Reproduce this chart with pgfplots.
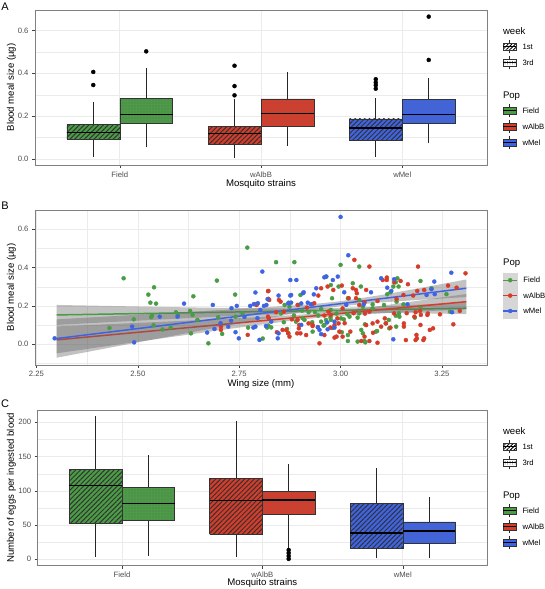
\documentclass[border=0pt]{standalone}
\usepackage{fontspec}
\setmainfont{Liberation Sans}
\usepackage{pgfplots}
\pgfplotsset{compat=1.18}
\usetikzlibrary{patterns.meta}

\definecolor{cF}{HTML}{4A9C45}
\definecolor{cA}{HTML}{D63C2A}
\definecolor{cM}{HTML}{3E64E4}
\definecolor{gridc}{HTML}{EBEBEB}
\definecolor{tickc}{HTML}{4D4D4D}
\definecolor{bandkey}{HTML}{D6D6D6}

\pgfplotsset{
 gg/.style={
  scale only axis,
  axis line style={draw=black!50, line width=0.6pt},
  grid=both,
  major grid style={draw=gridc, line width=0.6pt},
  minor grid style={draw=gridc, line width=0.3pt},
  tick align=outside, tick pos=left,
  major tick length=3pt, minor tick length=0pt,
  major tick style={draw=black!75, line width=0.5pt},
  tick label style={font=\fontsize{7.7}{9}\selectfont, text=tickc},
  label style={font=\fontsize{9.6}{11}\selectfont},
  /pgf/number format/assume math mode=true,
  scaled ticks=false,
  legend cell align=left,
 },
 hatch/.style={fill=#1, postaction={pattern={Lines[angle=45,distance=3.4pt,line width=1.0pt]}, pattern color=black!80}},
 dots/.style={fill=#1, postaction={pattern={Dots[distance=3pt,radius=0.6pt]}, pattern color=black!60}},
 outl/.style={only marks, mark=*, mark size=2pt, black, forget plot},
 pts/.style={only marks, mark=*, mark size=2pt, color=#1, forget plot},
 keywk1/.style={legend image code/.code={
   \draw[black!85, line width=0.5pt] (6.5pt,-6.5pt)--(6.5pt,6.5pt);
   \draw[black!80, line width=0.5pt, fill=white, postaction={pattern={Lines[angle=45,distance=2.6pt,line width=0.9pt]}, pattern color=black}] (0pt,-3.5pt) rectangle (13pt,3.5pt);
   \draw[black, line width=1pt] (0pt,0pt)--(13pt,0pt);}},
 keywk3/.style={legend image code/.code={
   \draw[black!85, line width=0.5pt] (6.5pt,-6.5pt)--(6.5pt,6.5pt);
   \draw[black!80, line width=0.5pt, fill=white, postaction={pattern={Dots[distance=2.5pt,radius=0.5pt]}, pattern color=black!70}] (0pt,-3.5pt) rectangle (13pt,3.5pt);
   \draw[black, line width=1pt] (0pt,0pt)--(13pt,0pt);}},
 keypop/.style={legend image code/.code={
   \draw[black!85, line width=0.5pt] (6.5pt,-6.5pt)--(6.5pt,6.5pt);
   \draw[black!80, line width=0.5pt, fill=#1] (0pt,-3.5pt) rectangle (13pt,3.5pt);
   \draw[black, line width=1pt] (0pt,0pt)--(13pt,0pt);}},
 keyline/.style={legend image code/.code={
   \fill[bandkey] (0pt,-7.5pt) rectangle (14pt,7.5pt);
   \draw[#1, line width=1.4pt] (0pt,0pt)--(14pt,0pt);
   \fill[#1] (7pt,0pt) circle (2pt);}},
 keytitle/.style 2 args={legend image code/.code={
   \node[overlay, anchor=west, inner sep=0pt, font=\fontsize{9.6}{11}\selectfont] at (0pt,#2) {#1};}},
 legbox/.style={legend style={draw=none, fill=none, inner sep=0pt, outer sep=0pt,
   row sep=0pt, column sep=0pt, anchor=north west,
   font=\fontsize{7.7}{9}\selectfont,
   nodes={inner xsep=6pt, inner ysep=0pt, minimum height=#1, text depth=0pt, anchor=west}}},
}

% box: #1 fill style, #2 left, #3 centre, #4 right, #5 lower whisker, #6 Q1, #7 median, #8 Q3, #9 upper whisker
\newcommand{\gbox}[9]{%
 \addplot[black!85, line width=0.6pt, forget plot] coordinates {(#3,#5) (#3,#6)};
 \addplot[black!85, line width=0.6pt, forget plot] coordinates {(#3,#8) (#3,#9)};
 \addplot[draw=black!80, line width=0.5pt, #1, forget plot] coordinates {(#2,#6) (#4,#6) (#4,#8) (#2,#8) (#2,#6)};
 \addplot[black, line width=1.3pt, forget plot] coordinates {(#2,#7) (#4,#7)};
}

\begin{document}
\begin{tikzpicture}
\useasboundingbox (0pt,0pt) rectangle (544pt,589pt);

\node[anchor=center, font=\fontsize{11}{12}\selectfont] at (5pt,582.3pt) {A};
\node[anchor=center, font=\fontsize{11}{12}\selectfont] at (5pt,383pt) {B};
\node[anchor=center, font=\fontsize{11}{12}\selectfont] at (5pt,185pt) {C};

% ---------------- Panel A ----------------
\begin{axis}[gg,
  at={(35pt,424pt)}, anchor=south west, width=452pt, height=155pt,
  xmin=0.4, xmax=3.6, ymin=-0.028, ymax=0.695,
  xtick={1,2,3}, xticklabels={Field,wAlbB,wMel},
  ytick={0,0.2,0.4,0.6}, minor ytick={0.1,0.3,0.5},
  yticklabel style={/pgf/number format/.cd, fixed, fixed zerofill, precision=1},
  xlabel={Mosquito strains}, ylabel={Blood meal size (µg)},
  xlabel style={at={(axis description cs:0.5,-0.1206)}, anchor=center},
  ylabel style={at={(axis description cs:-0.052,0.5)}, anchor=center},
  legbox=16pt, legend style={at={(axis description cs:1.0343,0.9161)}},
]
\gbox{hatch=cF}{0.625}{0.8125}{1.0}{0.008}{0.093}{0.123}{0.163}{0.264}
\gbox{dots=cF}{1.0}{1.1875}{1.375}{0.054}{0.165}{0.207}{0.283}{0.426}
\gbox{hatch=cA}{1.625}{1.8125}{2.0}{0.003}{0.067}{0.118}{0.152}{0.278}
\gbox{dots=cA}{2.0}{2.1875}{2.375}{0.062}{0.154}{0.211}{0.280}{0.406}
\gbox{hatch=cM}{2.625}{2.8125}{3.0}{0.011}{0.087}{0.145}{0.187}{0.283}
\gbox{dots=cM}{3.0}{3.1875}{3.375}{0.073}{0.168}{0.208}{0.278}{0.376}
\addplot[outl] coordinates {(0.8125,0.406) (0.8125,0.345) (1.1875,0.502)
  (1.8125,0.435) (1.8125,0.340) (1.8125,0.297)
  (2.8125,0.372) (2.8125,0.357) (2.8125,0.344) (2.8125,0.328)
  (3.1875,0.664) (3.1875,0.462)};
\addlegendimage{keytitle={week}{0pt}}\addlegendentry{}
\addlegendimage{keywk1}\addlegendentry{1st}
\addlegendimage{keywk3}\addlegendentry{3rd}
\addlegendimage{empty legend}\addlegendentry{}
\addlegendimage{keytitle={Pop}{0pt}}\addlegendentry{}
\addlegendimage{keypop=cF}\addlegendentry{Field}
\addlegendimage{keypop=cA}\addlegendentry{wAlbB}
\addlegendimage{keypop=cM}\addlegendentry{wMel}
\end{axis}

% ---------------- Panel B ----------------
\begin{axis}[gg,
  at={(35pt,224pt)}, anchor=south west, width=452pt, height=155pt,
  xmin=2.2465, xmax=3.361, ymin=-0.108, ymax=0.70,
  xtick={2.25,2.5,2.75,3,3.25}, minor xtick={2.375,2.625,2.875,3.125},
  ytick={0,0.2,0.4,0.6}, minor ytick={-0.1,0.1,0.3,0.5},
  xticklabel style={/pgf/number format/.cd, fixed, fixed zerofill, precision=2},
  yticklabel style={/pgf/number format/.cd, fixed, fixed zerofill, precision=1},
  xlabel={Wing size (mm)}, ylabel={Blood meal size (µg)},
  xlabel style={at={(axis description cs:0.5,-0.1226)}, anchor=center},
  ylabel style={at={(axis description cs:-0.052,0.5)}, anchor=center},
  legbox=15pt, legend style={at={(axis description cs:1.0343,0.6935)}, nodes={inner xsep=5.5pt}},
]
\addplot[pts=cF] table {
2.465 0.344
2.526 0.259
2.540 0.297
2.531 0.217
2.545 0.212
2.430 0.085
2.490 0.130
2.533 0.141
2.535 0.150
2.539 0.099
2.561 0.077
2.581 0.087
2.594 0.167
2.637 0.250
2.629 0.174
2.635 0.153
2.647 0.127
2.631 0.057
2.695 0.332
2.698 0.141
2.674 0.005
2.708 0.054
2.740 0.259
2.772 0.087
2.770 0.504
2.808 0.030
2.819 0.087
2.758 0.162
2.741 0.144
2.599 0.153
2.841 0.428
2.886 0.428
3.000 0.414
3.046 0.405
2.965 0.353
2.976 0.309
2.995 0.301
3.030 0.318
3.050 0.301
2.901 0.257
2.862 0.205
2.874 0.196
2.896 0.205
2.921 0.167
2.952 0.184
2.964 0.127
2.975 0.139
3.017 0.156
3.042 0.139
2.822 0.097
2.868 0.080
2.871 0.057
2.931 0.066
2.958 0.097
3.003 0.063
3.018 0.017
3.042 0.014
3.061 0.010
3.051 0.075
3.060 0.104
2.911 0.127
2.860 0.115
2.937 0.167
3.079 0.208
3.090 0.069
2.885 0.150
2.945 0.150
2.990 0.160
2.905 0.175
3.008 0.130
2.930 0.115
2.980 0.085
3.140 0.344
3.136 0.323
3.130 0.301
3.123 0.271
3.115 0.261
3.197 0.330
3.224 0.292
3.261 0.261
3.155 0.208
3.138 0.222
3.107 0.205
3.144 0.162
3.136 0.149
3.183 0.139
3.197 0.188
3.111 0.109
3.119 0.127
3.270 0.170
2.872 0.217
2.853 0.161
2.890 0.118
2.907 0.135
2.952 0.118
2.960 0.101
2.976 0.127
2.829 0.088
3.143 0.301
2.979 0.240
3.018 0.240
3.046 0.231
3.055 0.196
3.079 0.187
2.976 0.179
3.001 0.135
3.022 0.144
3.046 0.161
3.145 0.144
3.120 0.083
3.087 0.066
3.055 0.057
3.018 0.048
3.059 0.017
3.137 0.092
};
\addplot[pts=cA] table {
2.771 0.049
2.821 0.277
2.822 0.237
2.790 0.209
2.705 0.092
2.705 0.075
2.821 0.144
2.793 0.205
2.822 0.278
2.824 0.231
2.852 0.222
2.894 0.205
2.945 0.254
2.968 0.301
2.982 0.283
3.003 0.306
3.034 0.440
3.071 0.405
3.038 0.283
3.040 0.266
3.059 0.219
3.091 0.226
2.843 0.063
2.857 0.075
2.871 0.057
2.897 0.083
2.901 0.057
2.921 0.109
2.931 0.101
2.944 0.090
2.948 0.005
2.975 0.087
2.985 0.035
2.990 0.040
3.024 0.066
3.051 0.017
3.079 0.109
2.823 0.135
2.894 0.127
2.970 0.170
2.841 0.167
2.917 0.191
2.992 0.135
3.032 0.162
2.880 0.130
2.960 0.150
3.010 0.110
3.060 0.160
2.930 0.210
3.020 0.240
2.860 0.170
3.080 0.060
3.191 0.405
3.308 0.370
3.114 0.348
3.114 0.335
3.132 0.323
3.148 0.330
3.166 0.313
3.179 0.254
3.189 0.278
3.286 0.295
3.265 0.306
3.206 0.283
3.155 0.257
3.138 0.236
3.185 0.167
3.214 0.153
3.245 0.156
3.278 0.104
3.294 0.174
3.196 0.174
3.163 0.162
3.156 0.109
3.156 0.092
3.197 0.101
3.220 0.075
3.228 0.083
3.187 0.049
3.185 0.022
3.204 0.022
3.123 0.087
3.109 0.135
2.848 0.231
2.935 0.214
2.952 0.292
2.866 0.074
2.874 0.040
2.898 0.101
2.893 0.057
2.915 0.048
2.931 0.095
2.960 0.048
3.030 0.292
3.063 0.283
3.104 0.335
3.005 0.187
3.038 0.240
2.976 0.153
2.985 0.100
2.995 0.109
2.997 0.066
3.005 0.040
3.063 0.100
3.059 0.040
3.091 0.118
3.100 0.092
3.112 0.109
3.132 0.161
3.182 0.144
3.198 0.153
3.215 0.161
3.188 0.031
3.206 0.031
3.161 0.022
3.071 0.017
3.046 0.205
3.071 0.170
3.091 0.008
};
\addplot[pts=cM] table {
2.295 0.031
2.486 0.092
2.491 0.010
2.554 0.144
2.614 0.212
2.598 0.144
2.685 0.205
2.671 0.061
2.689 0.080
2.731 0.188
2.744 0.200
2.741 0.063
2.749 0.031
2.723 0.092
2.777 0.200
2.786 0.209
2.790 0.270
2.807 0.379
2.811 0.200
2.800 0.023
2.790 0.092
2.785 0.087
2.795 0.136
2.802 0.179
2.763 0.143
2.704 0.110
3.000 0.664
3.019 0.464
2.876 0.335
2.891 0.335
2.964 0.353
2.981 0.335
2.993 0.353
2.940 0.292
2.934 0.260
2.847 0.254
2.876 0.254
2.909 0.271
3.009 0.271
2.903 0.213
2.817 0.205
2.927 0.208
3.014 0.205
3.075 0.271
3.057 0.208
2.845 0.031
2.847 0.057
2.948 0.075
2.967 0.114
2.985 0.118
2.903 0.101
2.871 0.213
3.100 0.344
3.132 0.339
3.273 0.373
3.224 0.287
3.212 0.257
3.232 0.261
3.165 0.208
3.275 0.167
3.130 0.026
3.115 0.295
3.125 0.278
2.878 0.257
2.907 0.266
2.960 0.349
2.796 0.214
2.820 0.235
2.878 0.217
2.919 0.217
2.730 0.123
2.816 0.095
2.829 0.118
2.944 0.088
2.968 0.078
2.952 0.053
3.231 0.327
2.985 0.087
};
% confidence bands and fitted lines
\addplot[fill=black!60, fill opacity=0.4, draw=none, forget plot] table {
2.30 0.205
2.40 0.201
2.50 0.197
2.60 0.1932
2.70 0.1898
2.80 0.187
2.90 0.1864
2.95 0.1875
3.00 0.1899
3.10 0.1974
3.20 0.2071
3.31 0.2185
3.31 0.1575
3.20 0.1613
3.10 0.164
3.00 0.1647
2.95 0.1635
2.90 0.1612
2.80 0.1536
2.70 0.144
2.60 0.1336
2.50 0.123
2.40 0.112
2.30 0.101
};
\addplot[cF, line width=1.5pt, forget plot] coordinates {(2.30,0.153) (3.31,0.188)};
\addplot[fill=black!60, fill opacity=0.4, draw=none, forget plot] table {
2.30 0.093
2.40 0.1023
2.50 0.1116
2.60 0.1211
2.70 0.1309
2.80 0.1414
2.90 0.1543
2.95 0.1631
3.00 0.174
3.10 0.2005
3.20 0.2294
3.31 0.262
3.31 0.182
3.20 0.1712
3.10 0.1607
3.00 0.1478
2.95 0.1391
2.90 0.1281
2.80 0.1016
2.70 0.0727
2.60 0.0431
2.50 0.0132
2.40 -0.0169
2.30 -0.047
};
\addplot[cA, line width=1.5pt, forget plot] coordinates {(2.30,0.023) (3.31,0.222)};
\addplot[fill=black!60, fill opacity=0.4, draw=none, forget plot] table {
2.30 0.130
2.40 0.1419
2.50 0.1539
2.60 0.1659
2.70 0.1782
2.80 0.1909
2.90 0.2048
2.95 0.2134
3.00 0.2246
3.10 0.2567
3.20 0.2947
3.31 0.3378
3.31 0.2462
3.20 0.2323
3.10 0.2183
3.00 0.1986
2.95 0.1838
2.90 0.1664
2.80 0.1285
2.70 0.0894
2.60 0.0497
2.50 0.0099
2.40 -0.0301
2.30 -0.070
};
\addplot[cM, line width=1.5pt, forget plot] coordinates {(2.30,0.030) (3.31,0.292)};
\addlegendimage{keytitle={Pop}{3pt}}\addlegendentry{}
\addlegendimage{keyline=cF}\addlegendentry{Field}
\addlegendimage{keyline=cA}\addlegendentry{wAlbB}
\addlegendimage{keyline=cM}\addlegendentry{wMel}
\end{axis}

% ---------------- Panel C ----------------
\begin{axis}[gg,
  at={(37.7pt,23.3pt)}, anchor=south west, width=449.3pt, height=155.7pt,
  xmin=0.4, xmax=3.6, ymin=-9.3, ymax=218,
  xtick={1,2,3}, xticklabels={Field,wAlbB,wMel},
  ytick={0,50,100,150,200}, minor ytick={25,75,125,175},
  xlabel={Mosquito strains}, ylabel={Number of eggs per ingested blood},
  xlabel style={at={(axis description cs:0.5,-0.113)}, anchor=center},
  ylabel style={at={(axis description cs:-0.0583,0.5)}, anchor=center},
  legbox=16pt, legend style={at={(axis description cs:1.0345,0.9165)}},
]
\gbox{hatch=cF}{0.625}{0.8125}{1.0}{3.4}{52.1}{107.5}{131.4}{209}
\gbox{dots=cF}{1.0}{1.1875}{1.375}{5.4}{57.4}{81.3}{105.1}{151.8}
\gbox{hatch=cA}{1.625}{1.8125}{2.0}{3.4}{36.5}{85.6}{118.2}{201.5}
\gbox{dots=cA}{2.0}{2.1875}{2.375}{16.5}{65.7}{86.8}{99.3}{139.7}
\gbox{hatch=cM}{2.625}{2.8125}{3.0}{1.5}{15.6}{38.4}{81.3}{132.8}
\gbox{dots=cM}{3.0}{3.1875}{3.375}{1.9}{23.8}{41.4}{54.5}{90.5}
\addplot[outl] coordinates {(2.1875,13.6) (2.1875,9.2) (2.1875,4.8) (2.1875,0.6)};
\addlegendimage{keytitle={week}{0pt}}\addlegendentry{}
\addlegendimage{keywk1}\addlegendentry{1st}
\addlegendimage{keywk3}\addlegendentry{3rd}
\addlegendimage{empty legend}\addlegendentry{}
\addlegendimage{keytitle={Pop}{0pt}}\addlegendentry{}
\addlegendimage{keypop=cF}\addlegendentry{Field}
\addlegendimage{keypop=cA}\addlegendentry{wAlbB}
\addlegendimage{keypop=cM}\addlegendentry{wMel}
\end{axis}
\end{tikzpicture}
\end{document}
